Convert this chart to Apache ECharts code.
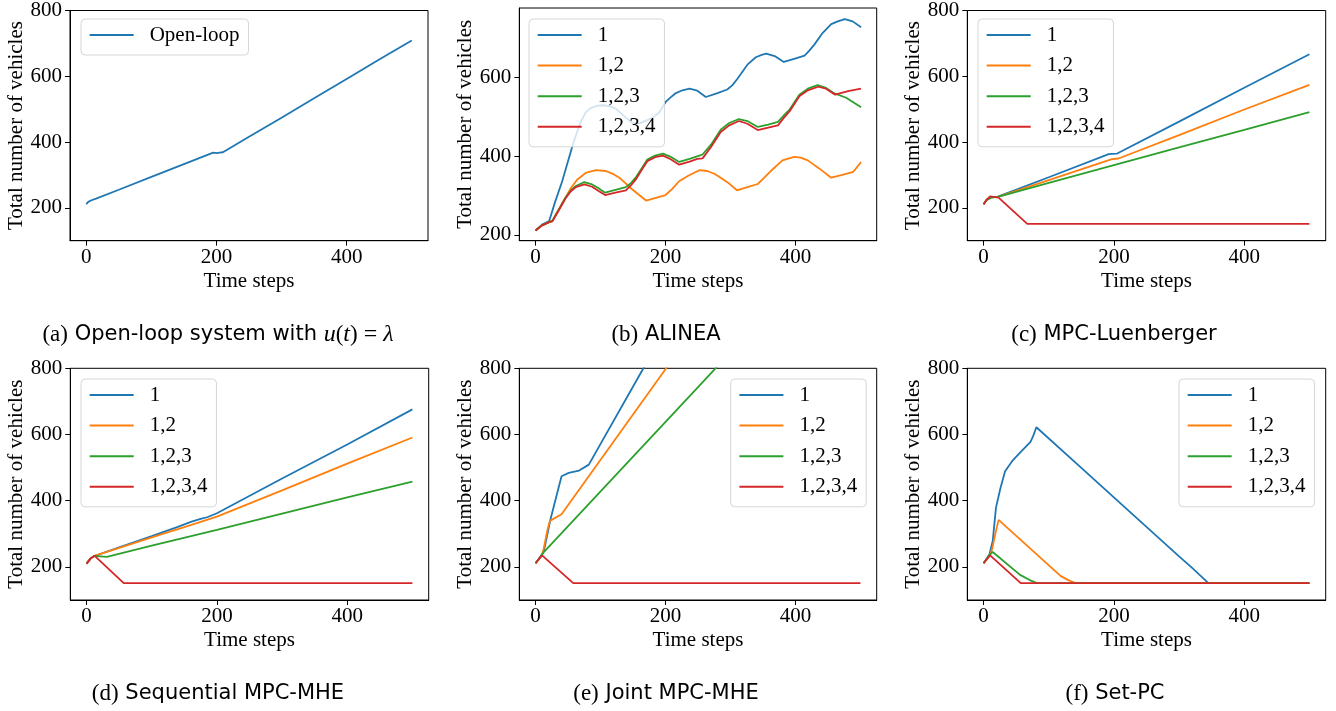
<!DOCTYPE html>
<html><head><meta charset="utf-8">
<script src="https://cdn.jsdelivr.net/npm/echarts@6/dist/echarts.min.js"></script>
<style>html,body{margin:0;padding:0;background:#fff}#c{width:1336px;height:711px}</style>
</head><body><div id="c"></div>
<script>
// ---------- data (x = time step, y = total number of vehicles) ----------
const xTicks = [0, 200, 400];
const yTicksFull = [200, 400, 600, 800];
const yTicksAlinea = [200, 400, 600];
const seriesNames = ['1', '1,2', '1,2,3', '1,2,3,4'];

// (a) open loop
const openLoop = [[0,211],[3,218],[8,223],[15,228],[50,255],[100,294],[150,333],[195,368],[200,366],[205,368],[210,369],[250,416],[300,474],[350,533],[400,592],[450,651],[500,709]];

// (b) ALINEA
const alinea1 = [[0,211],[10,226],[21,235],[30,283],[41,336],[59,438],[69,484],[77,511],[85,522],[95,528],[104,529],[115,526],[124,520],[137,500],[149,484],[160,483],[180,497],[190,510],[201,539],[210,552],[216,560],[226,567],[237,571],[249,566],[262,550],[280,560],[295,569],[303,580],[311,597],[326,632],[339,651],[348,657],[355,660],[368,654],[382,639],[398,647],[414,655],[421,667],[429,683],[442,713],[455,735],[465,742],[476,748],[488,742],[501,727]];
const alinea12 = [[0,211],[10,224],[21,232],[26,236],[36,265],[46,294],[55,320],[64,340],[77,357],[93,364],[108,362],[120,354],[129,345],[149,315],[170,287],[185,294],[200,301],[210,316],[221,336],[235,350],[252,364],[264,362],[275,355],[285,345],[298,330],[310,313],[326,321],[342,329],[352,345],[362,362],[380,389],[398,398],[408,396],[419,389],[437,368],[455,345],[472,352],[489,360],[501,385]];
const alinea123 = [[0,211],[10,224],[21,232],[26,236],[36,265],[46,294],[54,312],[62,324],[75,334],[87,328],[97,318],[107,307],[123,314],[139,321],[147,332],[154,345],[163,368],[172,391],[184,401],[196,406],[208,398],[221,385],[237,393],[252,401],[257,404],[270,429],[285,467],[298,484],[313,494],[326,489],[342,474],[358,480],[373,487],[382,503],[391,518],[406,556],[419,571],[434,580],[447,573],[460,559],[478,548],[501,524]];
const alinea1234 = [[0,211],[10,224],[21,232],[26,234],[36,263],[46,292],[54,310],[62,321],[75,328],[87,322],[97,311],[107,301],[123,307],[139,313],[147,326],[154,340],[163,364],[172,387],[184,397],[196,401],[208,392],[221,378],[237,386],[249,393],[257,394],[270,423],[285,461],[298,478],[313,489],[326,482],[342,466],[358,472],[373,478],[382,497],[391,514],[406,552],[419,567],[435,576],[447,571],[461,556],[481,565],[501,571]];

// (c) MPC-Luenberger
const luen1 = [[0,211],[5,226],[12,233],[22,234],[100,293],[192,363],[197,364],[205,365],[300,462],[400,565],[500,667]];
const luen12 = [[0,211],[5,225],[12,232],[22,233],[100,284],[197,348],[200,350],[207,350],[300,421],[400,499],[500,574]];
const luen123 = [[0,211],[5,224],[12,231],[22,233],[100,276],[200,330],[300,384],[400,437],[500,491]];
const luen1234 = [[0,211],[5,225],[10,235],[23,231],[67,151],[500,151]];

// (d) Sequential MPC-MHE
const seq1 = [[0,210],[6,225],[12,233],[50,259],[100,293],[140,321],[160,336],[175,345],[185,350],[200,362],[300,467],[400,570],[500,676]];
const seq12 = [[0,210],[6,225],[12,233],[100,289],[150,320],[200,352],[300,431],[400,512],[500,591]];
const seq123 = [[0,210],[6,225],[12,233],[31,230],[100,264],[200,312],[300,361],[400,410],[500,458]];
const seq1234 = [[0,210],[6,225],[12,234],[57,151],[500,151]];

// (e) Joint MPC-MHE
const joint1 = [[0,211],[10,238],[13,250],[23,344],[40,474],[51,484],[67,491],[82,509],[166,800],[200,918]];
const joint12 = [[0,211],[10,235],[12,250],[18,309],[22,339],[40,359],[201,800],[230,944]];
const joint123 = [[0,211],[12,243],[277,800],[300,848]];
const joint1234 = [[0,211],[10,235],[58,151],[500,151]];

// (f) Set-PC
const setpc1 = [[0,211],[9,238],[14,278],[19,379],[26,439],[33,489],[44,520],[56,545],[72,578],[76,595],[81,622],[150,499],[205,401],[300,232],[320,197],[345,151],[500,151]];
const setpc12 = [[0,211],[10,238],[13,253],[18,300],[23,342],[118,173],[130,160],[141,151],[500,151]];
const setpc123 = [[0,211],[10,238],[14,245],[56,176],[70,161],[82,151],[500,151]];
const setpc1234 = [[0,211],[10,235],[57,151],[500,151]];

// ---------- layout / style ----------
const COLORS = ['#1f77b4', '#ff7f0e', '#2ca02c', '#d62728'];
const SERIF = '"Liberation Serif", "Times New Roman", serif';
const SANS = '"DejaVu Sans", sans-serif';
const FS = 21;

const panels = [
  {grid:{left:70, top:8, width:358, height:232.7}, y:[100,800], yTicks:yTicksFull, leg:{left:81, top:19}, names:['Open-loop'], data:[openLoop],
   cap:'{p|(a)} {s|Open-loop system with }{m|u}{p|(}{m|t}{p|)}{e|=}{m|λ}', capX:218, capY:335},
  {grid:{left:519.3, top:8, width:357.4, height:232.7}, y:[185,776], yTicks:yTicksAlinea, leg:{left:529, top:19}, names:seriesNames, data:[alinea1, alinea12, alinea123, alinea1234],
   cap:'{p|(b)} {s|ALINEA}', capX:666, capY:335},
  {grid:{left:967.3, top:8, width:358.4, height:232.7}, y:[100,800], yTicks:yTicksFull, leg:{left:978, top:19}, names:seriesNames, data:[luen1, luen12, luen123, luen1234],
   cap:'{p|(c)} {s|MPC-Luenberger}', capX:1114, capY:335},
  {grid:{left:70.3, top:368.3, width:358.4, height:231.7}, y:[100,800], yTicks:yTicksFull, leg:{left:81, top:379}, names:seriesNames, data:[seq1, seq12, seq123, seq1234],
   cap:'{p|(d)} {s|Sequential MPC-MHE}', capX:218, capY:694},
  {grid:{left:519.3, top:368.3, width:357.4, height:231.7}, y:[100,800], yTicks:yTicksFull, leg:{left:730.7, top:379}, names:seriesNames, data:[joint1, joint12, joint123, joint1234],
   cap:'{p|(e)} {s|Joint MPC-MHE}', capX:666, capY:694},
  {grid:{left:967.3, top:368.3, width:358.4, height:231.7}, y:[100,800], yTicks:yTicksFull, leg:{left:1179, top:379}, names:seriesNames, data:[setpc1, setpc12, setpc123, setpc1234],
   cap:'{p|(f)} {s|Set-PC}', capX:1115, capY:694}
];

const grid = [], xAxis = [], yAxis = [], legend = [], series = [], graphic = [];
const axisCommon = {
  axisLine: {show: true, onZero: false, lineStyle: {color: '#000', width: 1}},
  splitLine: {show: false},
  nameLocation: 'middle',
  nameTextStyle: {fontFamily: SERIF, fontSize: FS, color: '#000'}
};
panels.forEach((p, i) => {
  grid.push(Object.assign({show: true, borderColor: '#000', borderWidth: 1, backgroundColor: 'transparent'}, p.grid));
  xAxis.push(Object.assign({}, axisCommon, {
    type: 'value', gridIndex: i, min: -25, max: 525, name: 'Time steps', nameGap: 30,
    axisTick: {show: true, inside: false, length: 5, customValues: xTicks, lineStyle: {color: '#000'}},
    axisLabel: {customValues: xTicks, margin: 6, fontFamily: SERIF, fontSize: FS, color: '#000'}
  }));
  yAxis.push(Object.assign({}, axisCommon, {
    type: 'value', gridIndex: i, min: p.y[0], max: p.y[1], name: 'Total number of vehicles', nameGap: 43,
    axisTick: {show: true, inside: false, length: 5, customValues: p.yTicks, lineStyle: {color: '#000'}},
    axisLabel: {customValues: p.yTicks, margin: 8, fontFamily: SERIF, fontSize: FS, color: '#000'}
  }));
  legend.push({
    left: p.leg.left, top: p.leg.top, orient: 'vertical',
    data: p.names.map(n => ({name: n, icon: 'rect'})),
    itemWidth: 44, itemHeight: 2, itemGap: 8.6,
    padding: [5, 9, 9, 8.7],
    backgroundColor: 'rgba(255,255,255,0.8)', borderColor: '#d6d6d6', borderWidth: 1, borderRadius: 4,
    selectedMode: false,
    formatter: n => '{g|}' + n,
    textStyle: {fontFamily: SERIF, fontSize: FS, color: '#000', lineHeight: 22, rich: {g: {width: 11}}}
  });
  p.data.forEach((d, k) => {
    series.push({
      type: 'line', name: p.names[k], xAxisIndex: i, yAxisIndex: i, data: d,
      symbol: 'none', showSymbol: false, clip: true, animation: false,
      lineStyle: {color: COLORS[k], width: 1.8}, itemStyle: {color: COLORS[k]},
      emphasis: {disabled: true}
    });
  });
  graphic.push({
    type: 'text', x: p.capX, y: p.capY,
    style: {
      text: p.cap, align: 'center', verticalAlign: 'middle', fill: '#000',
      fontFamily: SANS, fontSize: 21,
      rich: {
        p: {fontFamily: SERIF, fontSize: 23, fill: '#000'},
        s: {fontFamily: SANS, fontSize: 21, fill: '#000'},
        m: {fontFamily: SERIF, fontStyle: 'italic', fontSize: 24, fill: '#000'},
        e: {fontFamily: SERIF, fontSize: 24, fill: '#000', padding: [0, 6, 0, 6]}
      }
    }
  });
});

const chart = echarts.init(document.getElementById('c'), null, {renderer: 'canvas'});
chart.setOption({
  backgroundColor: '#fff',
  animation: false,
  grid, xAxis, yAxis, legend, series, graphic
});
</script></body></html>
